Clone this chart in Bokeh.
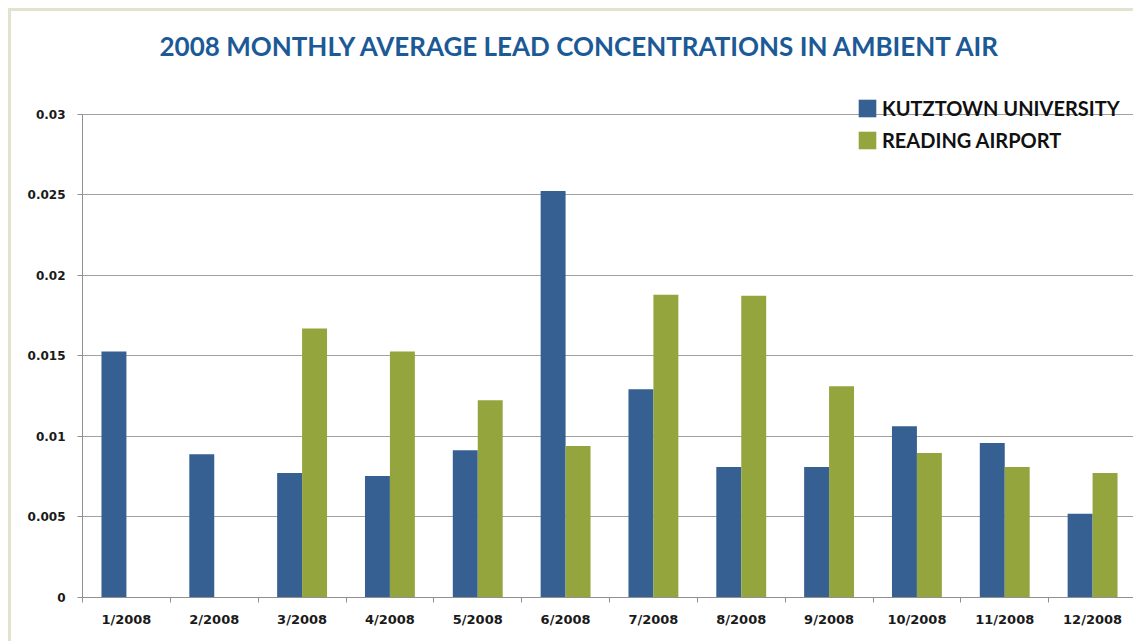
from bokeh.plotting import figure
from bokeh.models import ColumnDataSource, FixedTicker, Legend, LegendItem, Range1d, Title
from bokeh.transform import dodge
from bokeh.embed import file_html
from bokeh.resources import INLINE

months = ["1/2008", "2/2008", "3/2008", "4/2008", "5/2008", "6/2008",
          "7/2008", "8/2008", "9/2008", "10/2008", "11/2008", "12/2008"]
kutztown = [0.01528, 0.0089, 0.00773, 0.00755, 0.00915, 0.02524,
            0.01293, 0.0081, 0.0081, 0.01064, 0.00959, 0.0052]
reading = [None, None, 0.0167, 0.01528, 0.01225, 0.0094,
           0.0188, 0.01874, 0.01311, 0.00897, 0.0081, 0.00773]
y_ticks = [0, 0.005, 0.01, 0.015, 0.02, 0.025, 0.03]
y_labels = ["0", "0.005", "0.01", "0.015", "0.02", "0.025", "0.03"]

BLUE = "#366092"
GREEN = "#94A53D"
GRID = "#A0A0A0"
AXIS = "#909090"

centers = [i + 0.5 for i in range(len(months))]
src_k = ColumnDataSource(dict(x=centers, top=kutztown))
rx = [c for c, v in zip(centers, reading) if v is not None]
rv = [v for v in reading if v is not None]
src_r = ColumnDataSource(dict(x=rx, top=rv))

# frame top sits a little above the 0.03 gridline (room for legend)
y_top = 0.03 * 522 / 485

p = figure(width=1125, height=633, output_backend="svg", toolbar_location=None,
           x_range=Range1d(0, len(months)), y_range=Range1d(0, y_top),
           min_border_left=71, min_border_right=0, min_border_top=64, min_border_bottom=47,
           styles={"margin-left": "8px", "margin-top": "8px",
                   "border-left": "3px solid #E2E2CE", "border-top": "3px solid #E2E2CE"})
p.outline_line_color = None
p.background_fill_color = "white"
p.border_fill_color = "white"

off = 0.142
w = 0.284
r1 = p.vbar(x=dodge("x", -off), top="top", width=w, source=src_k,
            fill_color=BLUE, line_color=None)
r2 = p.vbar(x=dodge("x", off), top="top", width=w, source=src_r,
            fill_color=GREEN, line_color=None)

# x axis: labels at centres, ticks between categories
p.xaxis.ticker = FixedTicker(ticks=centers, minor_ticks=list(range(len(months) + 1)))
p.xaxis.major_label_overrides = {c: m for c, m in zip(centers, months)}
p.xaxis.major_tick_line_color = None
p.xaxis.major_tick_out = 0
p.xaxis.major_tick_in = 0
p.xaxis.minor_tick_out = 5
p.xaxis.minor_tick_in = 0
p.xaxis.minor_tick_line_color = AXIS
p.xaxis.axis_line_color = AXIS
p.xaxis.major_label_standoff = 9
p.xaxis.major_label_text_font = "DejaVu Sans"
p.xaxis.major_label_text_font_style = "bold"
p.xaxis.major_label_text_font_size = "13px"
p.xaxis.major_label_text_color = "#1a1a1a"

p.yaxis.ticker = FixedTicker(ticks=y_ticks, minor_ticks=[])
p.yaxis.bounds = (0, 0.03)
p.yaxis.major_label_overrides = {t: l for t, l in zip(y_ticks, y_labels)}
p.yaxis.major_tick_out = 5
p.yaxis.major_tick_in = 0
p.yaxis.major_tick_line_color = AXIS
p.yaxis.axis_line_color = AXIS
p.yaxis.major_label_standoff = 12
p.yaxis.major_label_text_font = "DejaVu Sans"
p.yaxis.major_label_text_font_style = "bold"
p.yaxis.major_label_text_font_size = "12px"
p.yaxis.major_label_text_color = "#1a1a1a"

p.xgrid.grid_line_color = None
p.ygrid.ticker = FixedTicker(ticks=y_ticks)
p.ygrid.grid_line_color = GRID
p.ygrid.grid_line_width = 1

title = Title(text="2008 MONTHLY AVERAGE LEAD CONCENTRATIONS IN AMBIENT AIR",
              align="left", offset=77, text_font="Lato", text_font_style="bold",
              text_font_size="26px", text_color="#1B5A96", standoff=32)
p.add_layout(title, "above")

legend = Legend(items=[LegendItem(label="KUTZTOWN UNIVERSITY", renderers=[r1]),
                       LegendItem(label="READING AIRPORT", renderers=[r2])],
                location=(774, 444), orientation="vertical",
                glyph_width=22, glyph_height=22, label_height=26, spacing=6,
                padding=0, margin=0, border_line_color=None, background_fill_alpha=0,
                label_text_font="Lato", label_text_font_style="bold",
                label_text_font_size="20px", label_text_color="#111111",
                label_standoff=4)
p.add_layout(legend, "center")

open("out.html", "w").write(file_html(p, INLINE))
